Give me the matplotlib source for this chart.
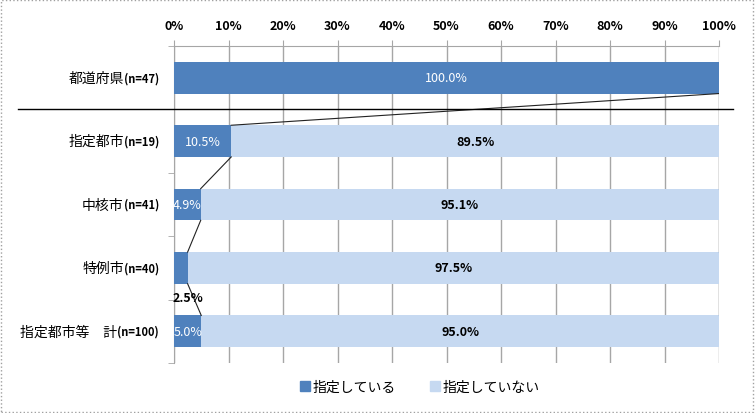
import matplotlib.pyplot as plt
import matplotlib.patches as mpatches
import matplotlib.transforms as mtransforms
from matplotlib.ticker import FuncFormatter

plt.rcParams['font.family'] = ['Noto Sans CJK JP', 'DejaVu Sans']

# data
categories = ['都道府県', '指定都市', '中核市', '特例市', '指定都市等\u3000計']
sample_n = ['(n=47)', '(n=19)', '(n=41)', '(n=40)', '(n=100)']
designated = [100.0, 10.5, 4.9, 2.5, 5.0]
not_designated = [0.0, 89.5, 95.1, 97.5, 95.0]
series_names = ['指定している', '指定していない']

dark = '#4F81BD'
light = '#C6D9F1'
grid_c = '#A6A6A6'
bar_h = 0.5

fig = plt.figure(figsize=(7.55, 4.14), dpi=100)
ax = fig.add_axes([174 / 755, 1 - 364 / 414, 545 / 755, 317 / 414])

ypos = list(range(len(categories)))
ax.barh(ypos, designated, height=bar_h, color=dark, label=series_names[0], zorder=3)
ax.barh(ypos, not_designated, left=designated, height=bar_h, color=light,
        label=series_names[1], zorder=3)

# series lines between neighbouring bars
for i in range(len(ypos) - 1):
    ax.plot([designated[i], designated[i + 1]], [i + bar_h / 2, i + 1 - bar_h / 2],
            color='#222222', lw=0.8, zorder=4)
    e1 = designated[i] + not_designated[i]
    e2 = designated[i + 1] + not_designated[i + 1]
    ax.plot([e1, e2], [i + bar_h / 2, i + 1 - bar_h / 2], color='#222222', lw=0.8, zorder=4)

# value labels
for i in ypos:
    d, n = designated[i], not_designated[i]
    if d >= 4:
        ax.text(d / 2, i, f'{d:.1f}%', ha='center', va='center', color='white',
                fontsize=9, zorder=5)
    else:
        ax.text(d, i + 0.47, f'{d:.1f}%', ha='center', va='center', color='black',
                fontsize=9, fontweight='bold', zorder=5)
    if n > 0:
        ax.text(d + n / 2, i, f'{n:.1f}%', ha='center', va='center', color='black',
                fontsize=9, fontweight='bold', zorder=5)

ax.set_xlim(0, 100)
ax.set_ylim(len(categories) - 0.5, -0.5)
ax.set_xticks(range(0, 101, 10))
ax.xaxis.set_major_formatter(FuncFormatter(lambda v, p: f'{int(v)}%'))
ax.xaxis.tick_top()
ax.tick_params(axis='x', length=4, color=grid_c, pad=6, labelsize=9)
for lab in ax.get_xticklabels():
    lab.set_fontweight('bold')
ax.grid(axis='x', color=grid_c, lw=1, zorder=0)
ax.set_yticks([])
ax.set_yticks([y + 0.5 for y in range(-1, len(categories))], minor=True)
ax.tick_params(axis='y', which='minor', length=4, color=grid_c)
ax.set_yticklabels([], minor=True)
for side in ['right', 'bottom']:
    ax.spines[side].set_visible(False)
ax.spines['left'].set_color(grid_c)
ax.spines['top'].set_color(grid_c)

# separator under the prefecture bar
sep = mtransforms.blended_transform_factory(fig.transFigure, ax.transData)
fig.add_artist(plt.Line2D([18 / 755, 733 / 755], [0.5, 0.5], transform=sep,
                          color='black', lw=1, zorder=2))

# category labels: name + bold sample size
fig.canvas.draw()
renderer = fig.canvas.get_renderer()
lbl = mtransforms.offset_copy(ax.get_yaxis_transform(), fig=fig, x=-15, y=0, units='dots')
for i, (name, n) in enumerate(zip(categories, sample_n)):
    t = ax.text(0, i, n, transform=lbl, ha='right', va='center', fontsize=8,
                fontweight='bold')
    w = t.get_window_extent(renderer).width
    lbl2 = mtransforms.offset_copy(ax.get_yaxis_transform(), fig=fig, x=-15 - w, y=0,
                                   units='dots')
    ax.text(0, i, name, transform=lbl2, ha='right', va='center', fontsize=10)

handles = [mpatches.Patch(color=dark), mpatches.Patch(color=light)]
fig.legend(handles, series_names, loc='center', bbox_to_anchor=(420 / 755, 1 - 388 / 414),
           ncol=2, frameon=False, fontsize=10, handlelength=0.7, handleheight=0.7,
           handletextpad=0.2, columnspacing=2.5)

fig.add_artist(mpatches.Rectangle((0.001, 0.002), 0.997, 0.995, transform=fig.transFigure,
                                  fill=False, edgecolor='#a0a0a0', lw=1, ls=':'))

fig.savefig('out.png', dpi=100)
